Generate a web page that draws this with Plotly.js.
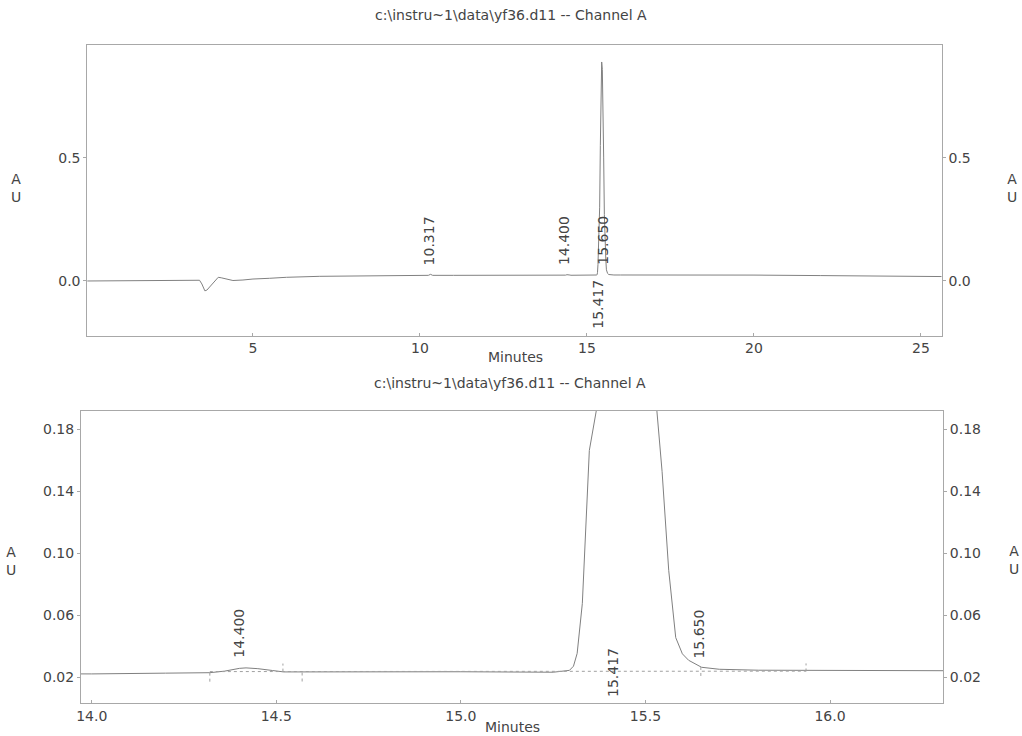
<!DOCTYPE html>
<html><head><meta charset="utf-8">
<script src="https://cdn.plot.ly/plotly-3.0.1.min.js"></script>
<style>html,body{margin:0;padding:0;background:#fff;}#chart{width:1022px;height:736px;}</style>
</head><body><div id="chart"></div>
<script>
// Chromatogram: retention time (min) vs absorbance (AU)
const timeMin = [0, 1.0, 2.2, 2.3, 3.0, 3.4, 3.47, 3.52, 3.56, 3.62, 3.7, 3.8, 3.9, 3.96, 4.05, 4.2,
  4.4, 4.7, 5.0, 5.5, 6.0, 7.0, 8.0, 9.0, 10.0, 10.25, 10.317, 10.38, 11.0, 12.0, 13.0, 14.0, 14.2, 14.32, 14.36, 14.4,
  14.418, 14.45, 14.49, 14.52, 14.57, 14.8, 15.0, 15.25, 15.28, 15.294, 15.305, 15.315, 15.329, 15.34, 15.348, 15.367,
  15.38, 15.40, 15.42, 15.44, 15.46, 15.48, 15.50, 15.52, 15.531, 15.545, 15.563, 15.582, 15.60, 15.617, 15.652, 15.7,
  15.806, 16.0, 16.3, 17, 18, 20, 22, 24, 25.62];
const absorbanceAU = [0, 0, 0, 0.003, 0.003, 0.003, -0.012, -0.03, -0.04, -0.037, -0.025, -0.01, 0.008, 0.015, 0.013, 0.007,
  0.002, 0.004, 0.008, 0.011, 0.015, 0.019, 0.021, 0.022, 0.023, 0.023, 0.027, 0.023, 0.023, 0.023, 0.0225, 0.022, 0.0225, 0.0228, 0.0238, 0.0256,
  0.0259, 0.0254, 0.0242, 0.0233, 0.0233, 0.0236, 0.0234, 0.0231, 0.0236, 0.0243, 0.027, 0.0353, 0.0676, 0.121, 0.1665, 0.1924,
  0.30, 0.55, 0.80, 0.89, 0.86, 0.72, 0.50, 0.27, 0.192, 0.153, 0.089, 0.0455, 0.035, 0.0308, 0.0263, 0.025,
  0.0244, 0.0244, 0.0245, 0.025, 0.025, 0.024, 0.022, 0.02, 0.018];

// Peak labels (retention times) and the trace value they sit on
const peakLabels = ['10.317', '14.400', '15.417', '15.650'];
const peakTimes = [10.317, 14.400, 15.417, 15.650];
const peakLabelAU = [0.027, 0.0259, 0.0231, 0.0263];

// Integration baseline and event marks (zoomed view)
const baselineTime = [14.32, 15.935];
const baselineAU = [0.0235, 0.0238];
const eventTime = [14.32, 14.518, 14.57, 15.65, 15.935];
const eventLowAU = [0.017, 0.0235, 0.0171, 0.0207, 0.0236];
const eventHighAU = [0.0235, 0.0287, 0.0235, 0.0285, 0.0288];

const topXTicks = [5, 10, 15, 20, 25];
const topYTicks = [0.0, 0.5];
const botXTicks = [14.0, 14.5, 15.0, 15.5, 16.0];
const botYTicks = [0.02, 0.06, 0.10, 0.14, 0.18];
const chartTitle = 'c:\\instru~1\\data\\yf36.d11 -- Channel A';

const FONT = 'DejaVu Sans, Liberation Sans, sans-serif';
const TXT = '#444444';
const LINE = '#a8a8a8';
const TRACE = '#808080';
const DOT = '#a0a0a0';

const evX = [], evY = [];
eventTime.forEach((t, i) => { evX.push(t, t, null); evY.push(eventLowAU[i], eventHighAU[i], null); });

const traces = [
  {x: timeMin, y: absorbanceAU, xaxis: 'x', yaxis: 'y', mode: 'lines', line: {color: TRACE, width: 1}, hoverinfo: 'skip'},
  {x: timeMin, y: absorbanceAU, xaxis: 'x', yaxis: 'y3', mode: 'lines', line: {color: TRACE, width: 1}, opacity: 0, hoverinfo: 'skip'},
  {x: timeMin, y: absorbanceAU, xaxis: 'x2', yaxis: 'y2', mode: 'lines', line: {color: TRACE, width: 1}, hoverinfo: 'skip'},
  {x: timeMin, y: absorbanceAU, xaxis: 'x2', yaxis: 'y4', mode: 'lines', line: {color: TRACE, width: 1}, opacity: 0, hoverinfo: 'skip'},
  {x: baselineTime, y: baselineAU, xaxis: 'x2', yaxis: 'y2', mode: 'lines', line: {color: DOT, width: 1, dash: 'dot'}, hoverinfo: 'skip'},
  {x: evX, y: evY, xaxis: 'x2', yaxis: 'y2', mode: 'lines', line: {color: DOT, width: 1, dash: 'dot'}, hoverinfo: 'skip'}
];

const tickFont = {family: FONT, size: 14, color: TXT};
const topYRange = [-0.2215, 0.959];
const botYRange = [0.0032, 0.192];

const layout = {
  width: 1022, height: 736,
  margin: {l: 0, r: 0, t: 0, b: 0},
  paper_bgcolor: '#fff', plot_bgcolor: '#fff',
  showlegend: false,
  font: {family: FONT, color: TXT},
  xaxis: {domain: [87.3/1022, 941.7/1022], anchor: 'y', range: [0.04, 25.62], tickvals: topXTicks,
    showline: true, mirror: true, linecolor: LINE, linewidth: 1, showgrid: false, zeroline: false,
    ticks: 'inside', ticklen: 3, tickcolor: LINE, tickfont: tickFont},
  yaxis: {domain: [1 - 335.5/736, 1 - 45/736], anchor: 'x', range: topYRange, tickvals: topYTicks, tickformat: '.1f',
    showline: true, mirror: true, linecolor: LINE, linewidth: 1, showgrid: false, zeroline: false,
    ticks: 'outside', ticklen: 3, tickcolor: LINE, tickfont: tickFont},
  yaxis3: {overlaying: 'y', side: 'right', anchor: 'x', range: topYRange, tickvals: topYTicks, tickformat: '.1f',
    showline: false, showgrid: false, zeroline: false, ticks: 'outside', ticklen: 3, tickcolor: LINE, tickfont: tickFont},
  xaxis2: {domain: [81/1022, 943/1022], anchor: 'y2', range: [13.971, 16.306], tickvals: botXTicks, tickformat: '.1f',
    showline: true, mirror: true, linecolor: LINE, linewidth: 1, showgrid: false, zeroline: false,
    ticks: 'inside', ticklen: 3, tickcolor: LINE, tickfont: tickFont},
  yaxis2: {domain: [1 - 703/736, 1 - 411/736], anchor: 'x2', range: botYRange, tickvals: botYTicks, tickformat: '.2f',
    showline: true, mirror: true, linecolor: LINE, linewidth: 1, showgrid: false, zeroline: false,
    ticks: 'outside', ticklen: 3, tickcolor: LINE, tickfont: tickFont},
  yaxis4: {overlaying: 'y2', side: 'right', anchor: 'x2', range: botYRange, tickvals: botYTicks, tickformat: '.2f',
    showline: false, showgrid: false, zeroline: false, ticks: 'outside', ticklen: 3, tickcolor: LINE, tickfont: tickFont},
  annotations: []
};

const ann = layout.annotations;
const txt = (text, x, y, size) => ({text, xref: 'paper', yref: 'paper', x: x/1022, y: 1 - y/736,
  xanchor: 'center', yanchor: 'middle', showarrow: false, font: {family: FONT, size: size, color: TXT}});
ann.push(txt(chartTitle, 511, 15, 14));
ann.push(txt(chartTitle, 510, 383, 14));
ann.push(txt('Minutes', 515, 357, 14));
ann.push(txt('Minutes', 512, 727, 14));
ann.push(txt('A<br>U', 16, 188, 14));
ann.push(txt('A<br>U', 1012, 188, 14));
ann.push(txt('A<br>U', 11, 561, 14));
ann.push(txt('A<br>U', 1014, 560, 14));

// Top peak labels
const topPlace = [
  {anchor: 'bottom', shift: 7, xs: -2},
  {anchor: 'bottom', shift: 8, xs: -3},
  {anchor: 'top', shift: -2, xs: -3},
  {anchor: 'bottom', shift: 8, xs: -6}
];
peakLabels.forEach((lab, i) => {
  const p = topPlace[i];
  ann.push({text: lab, xref: 'x', yref: 'y', x: peakTimes[i], y: peakLabelAU[i], textangle: -90,
    xanchor: 'center', yanchor: p.anchor, yshift: p.shift, xshift: p.xs, showarrow: false,
    font: {family: FONT, size: 14, color: TXT}});
});
// Bottom peak labels (only those in the zoom window)
const botPlace = {'14.400': {anchor: 'bottom', shift: 8, xs: 0}, '15.417': {anchor: 'middle', shift: 0, xs: -2}, '15.650': {anchor: 'bottom', shift: 7, xs: -2}};
peakLabels.forEach((lab, i) => {
  const p = botPlace[lab];
  if (!p) return;
  ann.push({text: lab, xref: 'x2', yref: 'y2', x: peakTimes[i], y: peakLabelAU[i], textangle: -90,
    xanchor: 'center', yanchor: p.anchor, yshift: p.shift, xshift: p.xs, showarrow: false,
    font: {family: FONT, size: 14, color: TXT}});
});

Plotly.newPlot('chart', traces, layout, {staticPlot: true, displayModeBar: false});
</script></body></html>
